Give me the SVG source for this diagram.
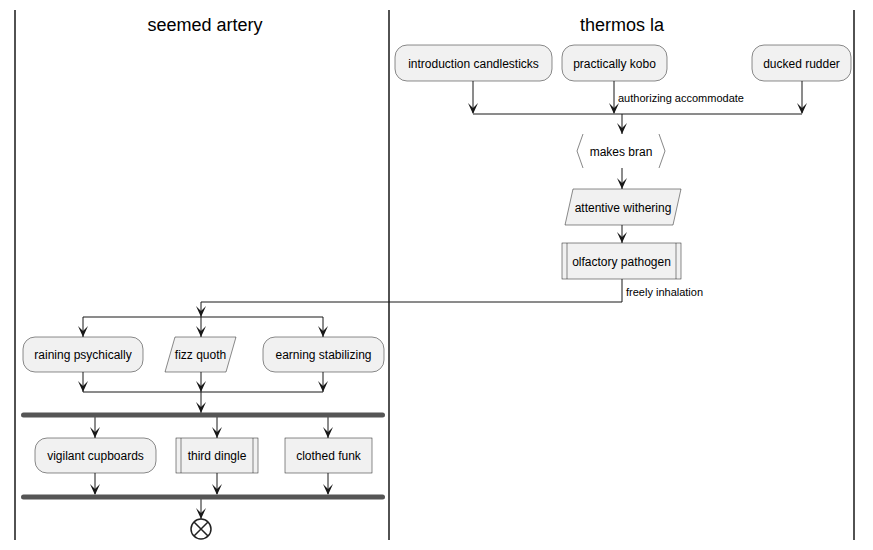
<svg xmlns="http://www.w3.org/2000/svg" xmlns:xlink="http://www.w3.org/1999/xlink" width="873" height="550" viewBox="0 0 873 550">
<defs>
<style>
.lane{stroke:#181818;stroke-width:1.5;fill:none}
.title{font-family:"Liberation Sans",Arial,sans-serif;font-size:18px;fill:#000;text-anchor:middle}
.node{fill:#F1F1F1;stroke:#181818;stroke-width:0.5}
.lbl{font-family:"Liberation Sans",Arial,sans-serif;font-size:12px;fill:#000;text-anchor:middle}
.elbl{font-family:"Liberation Sans",Arial,sans-serif;font-size:11px;fill:#000}
.edge{stroke:#181818;stroke-width:1;fill:none}
.bar{fill:#555555;stroke:none}
.ah{fill:#181818}
</style>
<path id="a" class="ah" d="M-5,-11 L0,0 L5,-11 L0,-6 Z"/>
</defs>
<g id="lanes">
<line class="lane" x1="15" y1="10" x2="15" y2="540"/>
<line class="lane" x1="389" y1="10" x2="389" y2="540"/>
<line class="lane" x1="854" y1="10" x2="854" y2="540"/>
<text class="title" x="205" y="31">seemed artery</text>
<text class="title" x="622" y="31">thermos la</text>
</g>
<g id="connectors">
<path class="edge" d="M473,81 V113 M614,81 V113 M802,81 V113 M473,114 H802"/>
<use xlink:href="#a" x="473" y="114"/>
<use xlink:href="#a" x="614" y="114"/>
<use xlink:href="#a" x="802" y="114"/>
<path class="edge" d="M622,114 V134"/>
<use xlink:href="#a" x="622" y="134"/>
<path class="edge" d="M622,168 V189"/>
<use xlink:href="#a" x="622" y="189"/>
<path class="edge" d="M622,225 V243"/>
<use xlink:href="#a" x="622" y="243"/>
<path class="edge" d="M622,279 V302 H201 V317"/>
<use xlink:href="#a" x="201" y="317"/>
<path class="edge" d="M83,317 H323 M83,317 V337 M201,317 V337 M323,317 V337"/>
<use xlink:href="#a" x="83" y="337"/>
<use xlink:href="#a" x="201" y="337"/>
<use xlink:href="#a" x="323" y="337"/>
<path class="edge" d="M83,372 V392 M201,372 V392 M323,372 V392 M83,392 H323"/>
<use xlink:href="#a" x="83" y="392"/>
<use xlink:href="#a" x="201" y="392"/>
<use xlink:href="#a" x="323" y="392"/>
<path class="edge" d="M201,392 V413"/>
<use xlink:href="#a" x="201" y="413"/>
<path class="edge" d="M95,417 V438 M217,417 V438 M328,417 V438"/>
<use xlink:href="#a" x="95" y="438"/>
<use xlink:href="#a" x="217" y="438"/>
<use xlink:href="#a" x="328" y="438"/>
<path class="edge" d="M95,473 V494 M217,473 V494 M328,473 V494"/>
<use xlink:href="#a" x="95" y="495"/>
<use xlink:href="#a" x="217" y="495"/>
<use xlink:href="#a" x="328" y="495"/>
<path class="edge" d="M201,499 V519"/>
<use xlink:href="#a" x="201" y="519"/>
<text class="elbl" x="618" y="102">authorizing accommodate</text>
<text class="elbl" x="626" y="296">freely inhalation</text>
</g>
<g id="introduction-candlesticks">
<rect class="node" x="395" y="45" width="157" height="36" rx="12"/>
<text class="lbl" x="473.5" y="67.5">introduction candlesticks</text>
</g>
<g id="practically-kobo">
<rect class="node" x="562" y="45" width="105" height="36" rx="12"/>
<text class="lbl" x="614.5" y="67.5">practically kobo</text>
</g>
<g id="ducked-rudder">
<rect class="node" x="752" y="45" width="99" height="36" rx="12"/>
<text class="lbl" x="801.5" y="67.5">ducked rudder</text>
</g>
<g id="makes-bran">
<polygon points="583,134 659,134 665,151 659,168 583,168 577,151" fill="#FFFFFF" stroke="none"/>
<path d="M583,134 L577,151 L583,168 M659,134 L665,151 L659,168" fill="none" stroke="#888888" stroke-width="1"/>
<text class="lbl" x="621" y="155.5">makes bran</text>
</g>
<g id="attentive-withering">
<polygon class="node" points="573,189 681,189 673,225 565,225"/>
<text class="lbl" x="623" y="211.5">attentive withering</text>
</g>
<g id="olfactory-pathogen">
<rect class="node" x="562" y="243" width="119" height="36"/>
<path d="M567,243 V279 M676,243 V279" stroke="#181818" stroke-width="0.5"/>
<text class="lbl" x="621.5" y="265.5">olfactory pathogen</text>
</g>
<g id="raining-psychically">
<rect class="node" x="23" y="337" width="120" height="35" rx="12"/>
<text class="lbl" x="83" y="359">raining psychically</text>
</g>
<g id="fizz-quoth">
<polygon class="node" points="175,337 236,337 226,372 165,372"/>
<text class="lbl" x="200.5" y="359">fizz quoth</text>
</g>
<g id="earning-stabilizing">
<rect class="node" x="263" y="337" width="121" height="35" rx="12"/>
<text class="lbl" x="323.5" y="359">earning stabilizing</text>
</g>
<g id="fork1">
<rect class="bar" x="21" y="412.5" width="364" height="5" rx="2.5"/>
</g>
<g id="vigilant-cupboards">
<rect class="node" x="35" y="438" width="121" height="35" rx="12"/>
<text class="lbl" x="95.5" y="460">vigilant cupboards</text>
</g>
<g id="third-dingle">
<rect class="node" x="176" y="438" width="82" height="35"/>
<path d="M181,438 V473 M253,438 V473" stroke="#181818" stroke-width="0.5"/>
<text class="lbl" x="217" y="460">third dingle</text>
</g>
<g id="clothed-funk">
<rect class="node" x="285" y="438" width="87" height="35"/>
<text class="lbl" x="328.5" y="460">clothed funk</text>
</g>
<g id="join1">
<rect class="bar" x="21" y="494.5" width="364" height="5" rx="2.5"/>
</g>
<g id="end">
<circle cx="201" cy="529" r="10" fill="#FFFFFF" stroke="#222222" stroke-width="1.5"/>
<path d="M194,522 L208,536 M208,522 L194,536" stroke="#222222" stroke-width="1.5"/>
</g>
</svg>
